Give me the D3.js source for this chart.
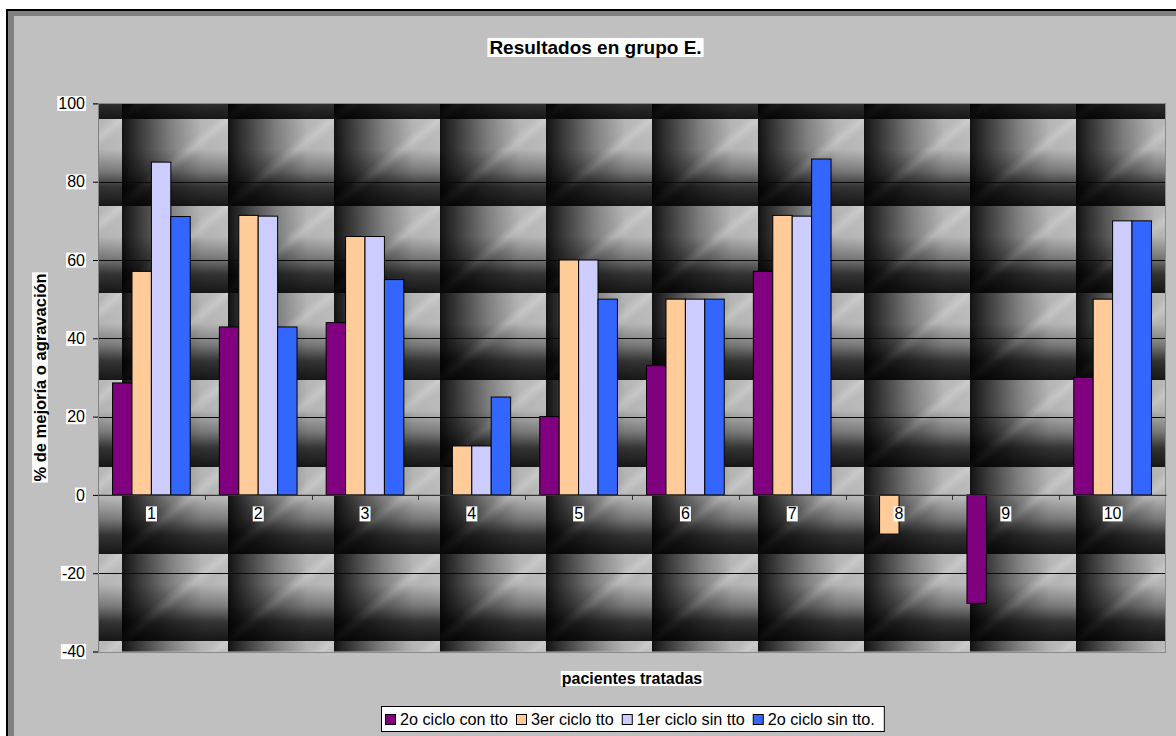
<!DOCTYPE html>
<html>
<head>
<meta charset="utf-8">
<script src="https://cdn.jsdelivr.net/npm/d3@7"></script>
<style>
  html, body { margin: 0; padding: 0; background: #fff; }
  svg { display: block; font-family: "Liberation Sans", Arial, sans-serif; }
</style>
</head>
<body>
<svg id="chart" width="1176" height="736"></svg>
<script>
// Patients and the four treatment cycles (percentage of improvement / worsening)
const categories = ["1", "2", "3", "4", "5", "6", "7", "8", "9", "10"];
const seriesNames = ["2o ciclo con tto", "3er ciclo tto", "1er ciclo sin tto", "2o ciclo sin tto."];
const seriesColors = ["#800080", "#FFCC99", "#CCCCFF", "#3366FF"];
const cicloDosConTto = [28.6, 42.9, 44, null, 20, 33, 57.1, null, -27.7, 30];
const cicloTresTto   = [57.1, 71.4, 66, 12.5, 60, 50, 71.4, -10, null, 50];
const cicloUnoSinTto = [85, 71.2, 66, 12.5, 60, 50, 71.2, null, null, 70];
const cicloDosSinTto = [71.1, 42.9, 55, 25, 50, 50, 85.8, null, null, 70];
const yTicks = [-40, -20, 0, 20, 40, 60, 80, 100];
const chartTitle = "Resultados en grupo E.";
const xTitle = "pacientes tratadas";
const yTitle = "% de mejoría o agravación";

const seriesValues = [cicloDosConTto, cicloTresTto, cicloUnoSinTto, cicloDosSinTto];

const svg = d3.select("#chart");
const defs = svg.append("defs");

// Plot area geometry
const plot = { left: 98, right: 1166, top: 103.4, bottom: 651.5 };

const x = d3.scaleBand().domain(categories).range([plot.left, plot.right]).padding(0);
const bw = x.bandwidth();
const xs = d3.scaleBand().domain(seriesNames)
  .range([bw * 0.75 / 5.5, bw * (1 - 0.75 / 5.5)]).padding(0);
const y = d3.scaleLinear().domain([-40, 100]).range([plot.bottom, plot.top]);
const color = d3.scaleOrdinal().domain(seriesNames).range(seriesColors);

// Tiled background texture for the plot area
const hGrad = defs.append("linearGradient").attr("id", "tileH")
  .attr("x1", 0).attr("y1", 0).attr("x2", 1).attr("y2", 0);
[[0, "#121212"], [0.08, "#262626"], [0.45, "#7e7e7e"], [0.75, "#b6b6b6"], [1, "#bebebe"]]
  .forEach(([o, c]) => hGrad.append("stop").attr("offset", o).attr("stop-color", c));

const vGrad = defs.append("linearGradient").attr("id", "tileV")
  .attr("x1", 0).attr("y1", 0).attr("x2", 0).attr("y2", 1);
[[0, 0], [0.35, 0.02], [0.6, 0.35], [0.78, 0.72], [1, 0.88]]
  .forEach(([o, a]) => vGrad.append("stop").attr("offset", o)
    .attr("stop-color", "#000").attr("stop-opacity", a));

const dGrad = defs.append("linearGradient").attr("id", "tileD")
  .attr("x1", 0).attr("y1", 0).attr("x2", 1).attr("y2", 1);
[[0, 0], [0.44, 0], [0.5, 0.22], [0.56, 0], [1, 0]]
  .forEach(([o, a]) => dGrad.append("stop").attr("offset", o)
    .attr("stop-color", "#fff").attr("stop-opacity", a));

const tileW = 106, tileH = 87;
const pattern = defs.append("pattern").attr("id", "tile")
  .attr("patternUnits", "userSpaceOnUse")
  .attr("x", 122).attr("y", 119).attr("width", tileW).attr("height", tileH);
pattern.append("rect").attr("width", tileW).attr("height", tileH).attr("fill", "url(#tileH)");
pattern.append("rect").attr("width", tileW).attr("height", tileH).attr("fill", "url(#tileD)");
pattern.append("rect").attr("width", tileW).attr("height", tileH).attr("fill", "url(#tileV)");

// Chart frame
svg.append("rect").attr("x", 6).attr("y", 9).attr("width", 1300).attr("height", 900).attr("fill", "#000");
svg.append("rect").attr("x", 8).attr("y", 11).attr("width", 1300).attr("height", 900).attr("fill", "#808080");
svg.append("rect").attr("x", 14).attr("y", 16).attr("width", 1300).attr("height", 900).attr("fill", "#c0c0c0");

// Helper: white box behind a text element
function whiteBox(sel, padX = 1, padY = 0) {
  sel.each(function () {
    const b = this.getBBox();
    d3.select(this.parentNode).insert("rect", () => this)
      .attr("x", b.x - padX).attr("y", b.y + 1 - padY)
      .attr("width", b.width + 2 * padX).attr("height", b.height - 2 + 2 * padY)
      .attr("fill", "#fff")
      .attr("transform", d3.select(this).attr("transform"));
  });
}

// Plot background
svg.append("rect")
  .attr("x", plot.left).attr("y", plot.top)
  .attr("width", plot.right - plot.left).attr("height", plot.bottom - plot.top)
  .attr("fill", "url(#tile)");

// Horizontal gridlines
svg.append("g").selectAll("line")
  .data(yTicks.filter(t => t !== 0 && t !== -40 && t !== 100))
  .join("line")
  .attr("x1", plot.left).attr("x2", plot.right)
  .attr("y1", d => Math.round(y(d)) + 0.5).attr("y2", d => Math.round(y(d)) + 0.5)
  .attr("stroke", "#0a0a0a").attr("stroke-width", 1);

// Plot border
svg.append("rect")
  .attr("x", plot.left + 0.5).attr("y", Math.round(plot.top) + 0.5)
  .attr("width", plot.right - plot.left - 1).attr("height", Math.round(plot.bottom) - Math.round(plot.top))
  .attr("fill", "none").attr("stroke", "#8a8a8a").attr("stroke-width", 1);

// Bars
const barData = [];
categories.forEach((c, i) => {
  seriesNames.forEach((s, j) => {
    const v = seriesValues[j][i];
    if (v !== null) barData.push({ cat: c, series: s, value: v });
  });
});
svg.append("g").selectAll("rect")
  .data(barData)
  .join("rect")
  .attr("x", d => x(d.cat) + xs(d.series))
  .attr("width", xs.bandwidth())
  .attr("y", d => y(Math.max(0, d.value)))
  .attr("height", d => Math.abs(y(d.value) - y(0)))
  .attr("fill", d => color(d.series))
  .attr("stroke", "#000").attr("stroke-width", 1);

// Y axis
const yAxis = svg.append("g").attr("transform", `translate(${plot.left},0)`)
  .call(d3.axisLeft(y).tickValues(yTicks).tickSize(5).tickPadding(8).tickFormat(d => String(d)));
yAxis.select(".domain").attr("stroke", "#808080");
yAxis.selectAll(".tick line").attr("stroke", "#000");
yAxis.selectAll(".tick text").attr("font-size", "16px").attr("font-family", "Liberation Sans, Arial, sans-serif")
  .attr("fill", "#000");
whiteBox(yAxis.selectAll(".tick text"));

// X axis at zero
const xAxis = svg.append("g").attr("transform", `translate(0,${y(0)})`)
  .call(d3.axisBottom(x).tickSize(0).tickFormat(""));
xAxis.select(".domain").attr("stroke", "#333").attr("stroke-width", 1.2);
xAxis.selectAll(".tick").remove();
xAxis.selectAll("line.sep")
  .data(categories.slice(1))
  .join("line").attr("class", "sep")
  .attr("x1", d => Math.round(x(d)) + 0.5).attr("x2", d => Math.round(x(d)) + 0.5)
  .attr("y1", 0).attr("y2", 5)
  .attr("stroke", "#333");

// Category labels
const catLabels = svg.append("g").selectAll("text")
  .data(categories)
  .join("text")
  .attr("x", d => x(d) + bw / 2)
  .attr("y", y(0) + 24.5)
  .attr("text-anchor", "middle")
  .attr("font-size", "16px")
  .text(d => d);
whiteBox(catLabels);

// Title
const title = svg.append("g").append("text")
  .attr("x", 595.5).attr("y", 54)
  .attr("text-anchor", "middle")
  .attr("font-size", "19px").attr("font-weight", "bold")
  .text(chartTitle);
whiteBox(title, 2, 0);

// X title
const xt = svg.append("g").append("text")
  .attr("x", (plot.left + plot.right) / 2).attr("y", 684)
  .attr("text-anchor", "middle")
  .attr("font-size", "16px").attr("font-weight", "bold")
  .text(xTitle);
whiteBox(xt, 1, 0);

// Y title
const yt = svg.append("g").append("text")
  .attr("transform", `translate(46,${(plot.top + plot.bottom) / 2}) rotate(-90)`)
  .attr("text-anchor", "middle")
  .attr("font-size", "16.5px").attr("font-weight", "bold")
  .text(yTitle);
whiteBox(yt, 1, 0);

// Legend
const legend = svg.append("g");
const legendBox = legend.append("rect")
  .attr("y", 706.5).attr("height", 25).attr("fill", "#fff")
  .attr("stroke", "#000").attr("stroke-width", 1);
let cursor = 0;
const items = [];
seriesNames.forEach((s, i) => {
  const g = legend.append("g");
  g.append("rect").attr("x", cursor + 0.5).attr("y", 714.5).attr("width", 10).attr("height", 10)
    .attr("fill", seriesColors[i]).attr("stroke", "#000").attr("stroke-width", 1);
  const t = g.append("text").attr("x", cursor + 15).attr("y", 725)
    .attr("font-size", "16.2px").text(s);
  const w = t.node().getComputedTextLength();
  cursor += 15 + w + 8;
  items.push(g);
});
const contentW = cursor - 8;
const boxW = contentW + 13;
const boxX = Math.round((plot.left + plot.right) / 2 - boxW / 2);
legendBox.attr("x", boxX + 0.5).attr("width", boxW);
items.forEach(g => g.attr("transform", `translate(${boxX + 4},0)`));
</script>
</body>
</html>
